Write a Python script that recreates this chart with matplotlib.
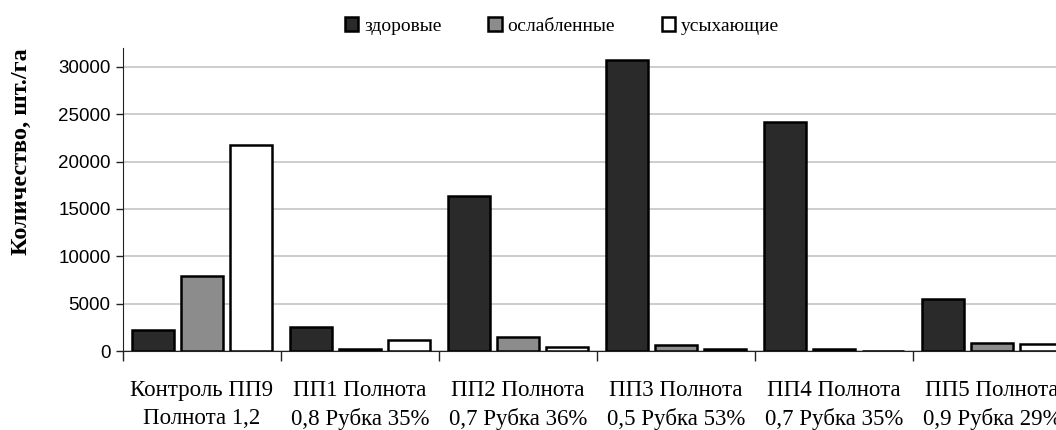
import numpy as np
import matplotlib.pyplot as plt
from matplotlib.patches import Patch

categories = ["Контроль ПП9\nПолнота 1,2", "ПП1 Полнота\n0,8 Рубка 35%", "ПП2 Полнота\n0,7 Рубка 36%",
              "ПП3 Полнота\n0,5 Рубка 53%", "ПП4 Полнота\n0,7 Рубка 35%", "ПП5 Полнота\n0,9 Рубка 29%"]
series_names = ["здоровые", "ослабленные", "усыхающие"]
healthy = [2270, 2580, 16420, 30690, 24200, 5450]
weakened = [7950, 250, 1480, 680, 200, 890]
drying = [21790, 1130, 420, 210, 0, 710]
colors = ["#2a2a2a", "#8c8c8c", "#ffffff"]

fig = plt.figure(figsize=(10.56, 4.3), dpi=100)
ax = fig.add_axes([123/1056, 79/430, 948/1056, 303/430])

x = np.arange(len(categories))
w = 0.266
step = 0.31
for i, (vals, c) in enumerate(zip([healthy, weakened, drying], colors)):
    ax.bar(x + (i - 1)*step, vals, width=w, color=c, edgecolor="black", linewidth=1.8, zorder=3)

ax.set_xlim(-0.5, len(categories) - 0.5)
ax.set_ylim(0, 32000)
ax.set_yticks(np.arange(0, 30001, 5000))
ax.yaxis.grid(True, color="#c0c0c0", linewidth=1.1, zorder=0)
for s in ["top", "right"]:
    ax.spines[s].set_visible(False)
ax.spines["left"].set_color("#222222")
ax.spines["bottom"].set_color("#222222")

# last label runs off the right edge, same as the source image
ax.set_xticks(x)
ax.set_xticklabels(categories, family="Liberation Serif", fontsize=16.5, linespacing=1.4)
ax.tick_params(axis="x", which="major", length=0, pad=21)
ax.set_xticks(np.arange(-0.5, len(categories), 1), minor=True)
ax.tick_params(axis="x", which="minor", length=7, width=1, color="#222222")
ax.tick_params(axis="y", length=5, width=1, color="#222222", pad=4)
for lab in ax.get_yticklabels():
    lab.set_family("Liberation Sans")
    lab.set_fontsize(13.5)

fig.text(21/1056, 1 - 152/430, "Количество, шт./га", rotation=90, ha="center", va="center",
         family="Liberation Serif", fontweight="bold", fontsize=17.5)

handles = [Patch(facecolor=c, edgecolor="black", linewidth=1.8) for c in colors]
fig.legend(handles, series_names, loc="center", bbox_to_anchor=(562/1056, 1 - 26/430), ncol=3,
           frameon=False, prop={"family": "Liberation Serif", "size": 14},
           handlelength=0.7, handleheight=0.7, handletextpad=0.3, columnspacing=2.4)

fig.savefig("out.png", dpi=100)
